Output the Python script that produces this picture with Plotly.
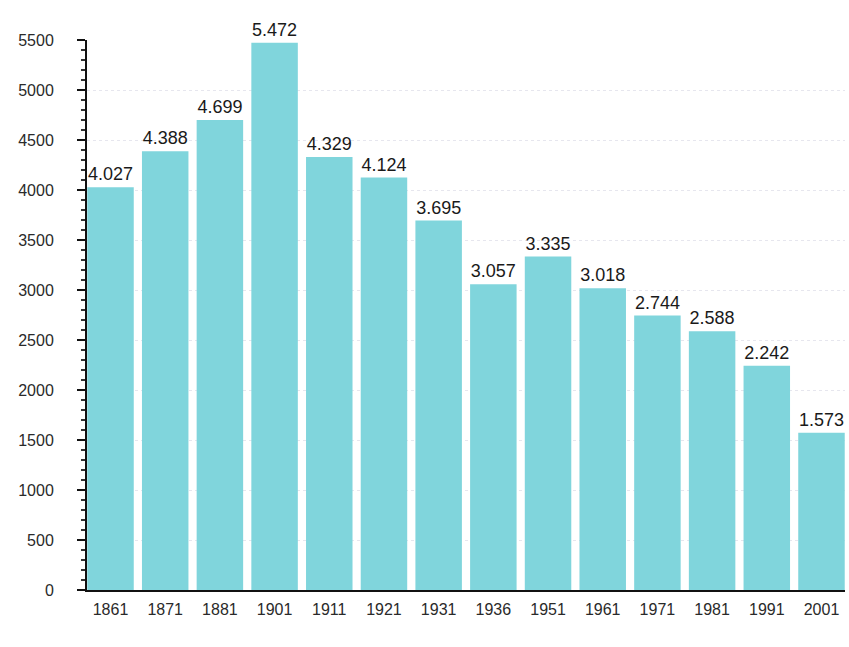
import plotly.graph_objects as go

years = ["1861", "1871", "1881", "1901", "1911", "1921", "1931", "1936",
         "1951", "1961", "1971", "1981", "1991", "2001"]
population = [4027, 4388, 4699, 5472, 4329, 4124, 3695, 3057,
              3335, 3018, 2744, 2588, 2242, 1573]
y_ticks = list(range(0, 5501, 500))


def it_fmt(v):
    return f"{v:,}".replace(",", ".")


fig = go.Figure()
fig.add_trace(go.Bar(
    x=list(range(len(years))),
    y=population,
    width=0.85,
    marker=dict(color="#80d5dc", line=dict(width=0)),
    text=[it_fmt(v) for v in population],
    textposition="outside",
    cliponaxis=False,
    textfont=dict(family="Liberation Sans, Arial, sans-serif", size=18, color="#1a1a1a"),
))

fig.update_layout(
    width=849, height=647,
    margin=dict(l=87, r=4, t=40, b=57),
    paper_bgcolor="white", plot_bgcolor="white",
    showlegend=False,
    bargap=0.15,
    xaxis=dict(
        range=[-0.43, len(years) - 1 + 0.43],
        tickmode="array",
        tickvals=list(range(len(years))),
        ticktext=years,
        showline=True, linecolor="#111", linewidth=2,
        ticks="", showgrid=False, zeroline=False,
        ticklabelstandoff=4,
        tickfont=dict(family="Liberation Sans Narrow, Arial Narrow, sans-serif", size=16, color="#2a2a2a"),
    ),
    yaxis=dict(
        range=[0, 5500],
        tickmode="array",
        tickvals=y_ticks,
        ticktext=[str(v) for v in y_ticks],
        showline=True, linecolor="#111", linewidth=2,
        ticks="outside", ticklen=8, tickwidth=1.5, tickcolor="#111",
        minor=dict(dtick=100, ticks="outside", ticklen=4, tickcolor="#333", showgrid=False),
        showgrid=True, gridcolor="#e6e6ee", griddash="dot", gridwidth=1,
        zeroline=False,
        ticklabelstandoff=20,
        tickfont=dict(family="Liberation Sans Narrow, Arial Narrow, sans-serif", size=16, color="#2a2a2a"),
    ),
)

fig.write_html("out.html")
